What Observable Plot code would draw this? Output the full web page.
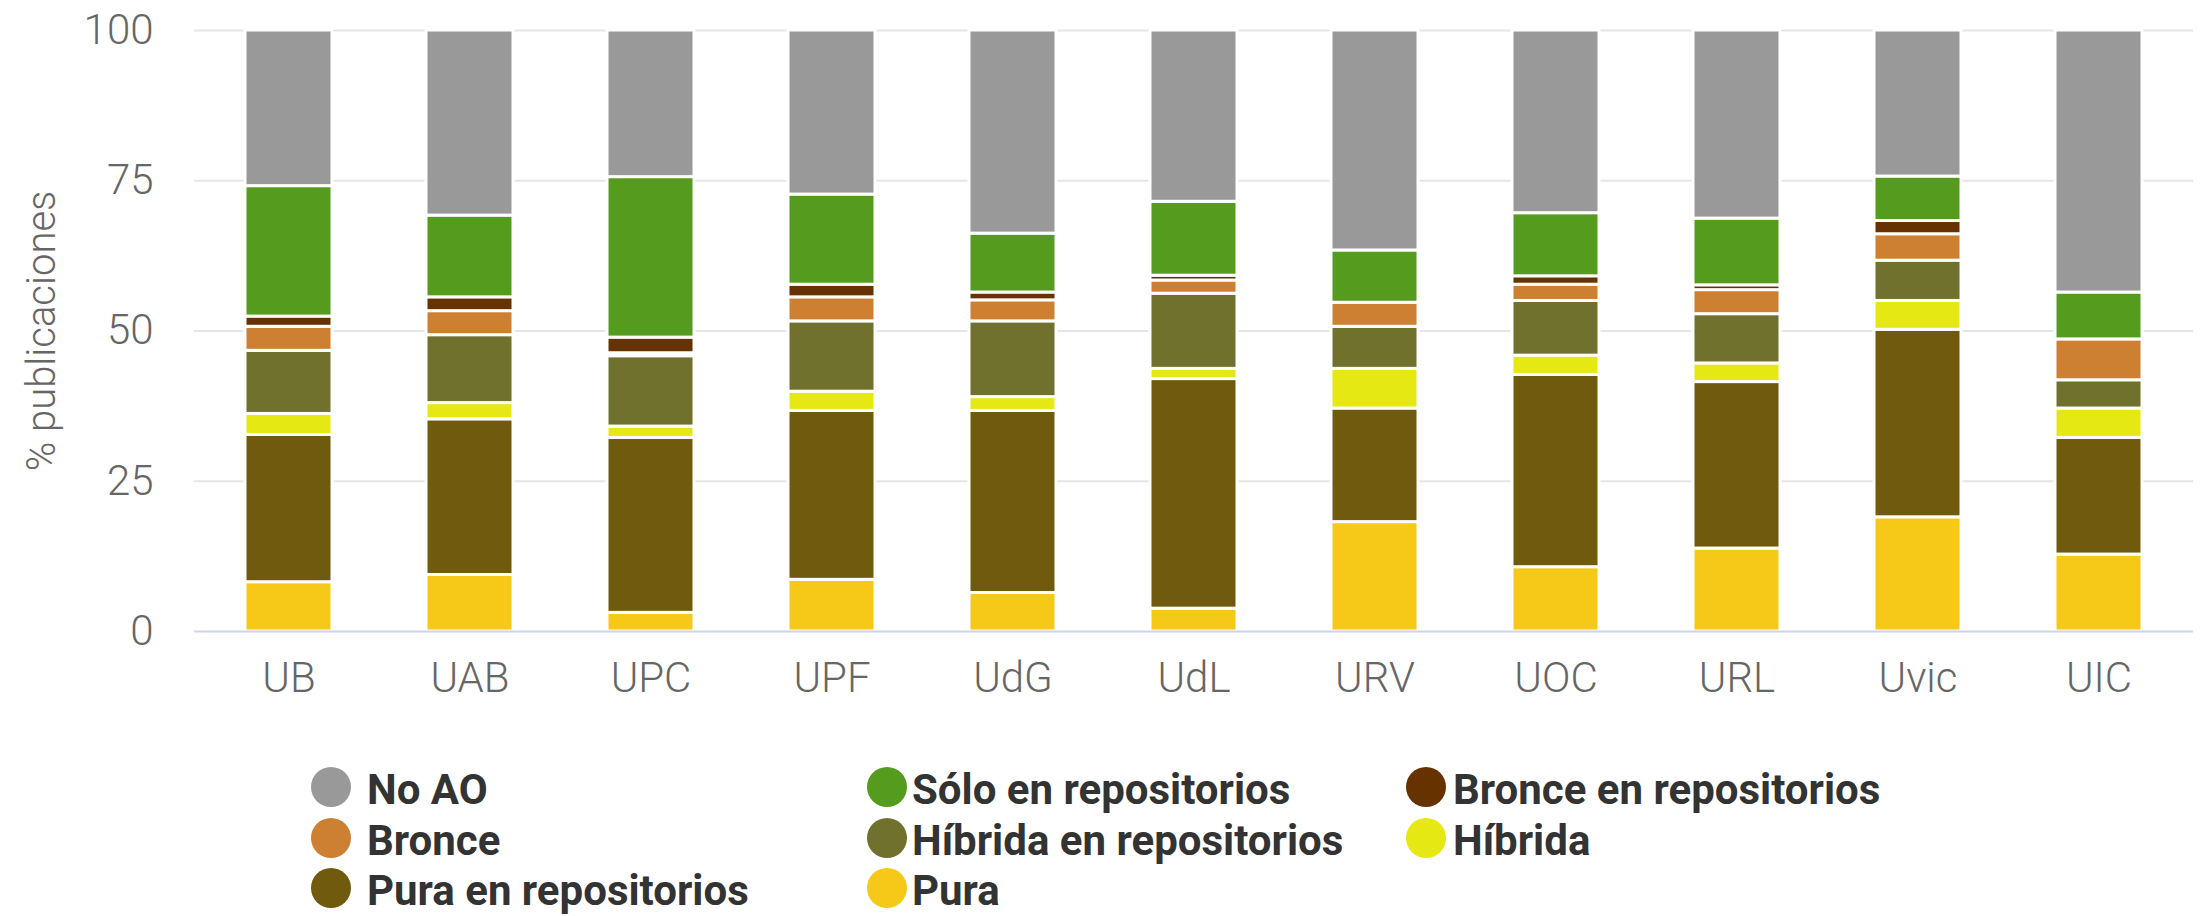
<!DOCTYPE html>
<html>
<head>
<meta charset="utf-8">
<script src="https://cdn.jsdelivr.net/npm/d3@7"></script>
<script src="https://cdn.jsdelivr.net/npm/@observablehq/plot@0.6"></script>
<style>
  html, body { margin: 0; padding: 0; background: #fff; }
  #wrap { position: relative; width: 2202px; height: 916px; font-family: Roboto, "Noto Sans", sans-serif; }
  #chart svg { display: block; }
  .leg-dot { position: absolute; width: 40px; height: 40px; border-radius: 50%; transform: translate(-50%, -50%); }
  .leg-txt { position: absolute; font-weight: 700; font-size: 42px; color: #333; line-height: 1; white-space: nowrap; transform: translateY(-50%); }
</style>
</head>
<body>
<div id="wrap">
  <div id="chart"></div>
  <div id="legend"></div>
</div>
<script>
// Universities (x categories)
const universidades = ["UB", "UAB", "UPC", "UPF", "UdG", "UdL", "URV", "UOC", "URL", "Uvic", "UIC"];

// Series (% publicaciones), stack order bottom -> top
const pura        = [8.2, 9.4, 3.1, 8.6, 6.4, 3.8, 18.2, 10.7, 13.8, 19.0, 12.8];
const puraRep     = [24.5, 25.9, 29.1, 28.1, 30.3, 38.2, 18.9, 32.0, 27.7, 31.2, 19.4];
const hibrida     = [3.5, 2.7, 1.9, 3.2, 2.3, 1.7, 6.6, 3.2, 3.1, 4.8, 4.9];
const hibridaRep  = [10.5, 11.3, 11.7, 11.7, 12.6, 12.5, 7.0, 9.1, 8.2, 6.7, 4.7];
const bronce      = [4.0, 4.0, 0.5, 4.0, 3.5, 2.2, 4.0, 2.7, 4.0, 4.4, 6.8];
const bronceRep   = [1.7, 2.3, 2.6, 2.1, 1.3, 0.8, 0.0, 1.4, 0.8, 2.2, 0.0];
const soloRep     = [21.7, 13.6, 26.7, 15.0, 9.8, 12.3, 8.7, 10.5, 11.1, 7.4, 7.8];
const noAO        = [25.9, 30.8, 24.4, 27.3, 33.8, 28.5, 36.6, 30.4, 31.3, 24.3, 43.6];

const categorias = ["Pura", "Pura en repositorios", "Híbrida", "Híbrida en repositorios",
                    "Bronce", "Bronce en repositorios", "Sólo en repositorios", "No AO"];
const colores    = ["#f6c919", "#6f5a0e", "#e6e813", "#6f712c",
                    "#cd7f32", "#663300", "#559c1e", "#999999"];
const series     = [pura, puraRep, hibrida, hibridaRep, bronce, bronceRep, soloRep, noAO];

// Legend order (row-major, 3 columns)
const leyenda = ["No AO", "Sólo en repositorios", "Bronce en repositorios",
                 "Bronce", "Híbrida en repositorios", "Híbrida",
                 "Pura en repositorios", "Pura"];

const yTicks = [0, 25, 50, 75, 100];
const yLabel = "% publicaciones";

const rows = [];
categorias.forEach((c, ci) => {
  universidades.forEach((u, ui) => {
    rows.push({universidad: u, categoria: c, valor: series[ci][ui]});
  });
});

const chart = Plot.plot({
  width: 2202,
  height: 720,
  marginLeft: 194,
  marginRight: 9,
  marginTop: 30,
  marginBottom: 89,
  style: {fontFamily: "Roboto, sans-serif", background: "#fff"},
  x: {domain: universidades, paddingInner: 0.52, paddingOuter: 0.26, label: null},
  y: {domain: [0, 100], label: null},
  color: {domain: categorias, range: colores},
  marks: [
    Plot.ruleY(yTicks.filter(d => d > 0), {stroke: "#e6e6e6", strokeWidth: 2}),
    Plot.barY(rows, {
      x: "universidad", y: "valor", fill: "categoria",
      order: categorias, stroke: "white", strokeWidth: 3
    }),
    Plot.ruleY([0], {stroke: "#ccd6eb", strokeWidth: 2}),
    Plot.axisY(yTicks, {tickSize: 0, tickPadding: 41, fontSize: 42, fontWeight: 300, fill: "#666", label: null}),
    Plot.axisX(universidades, {tickSize: 0, tickPadding: 31, fontSize: 42, fontWeight: 300, fill: "#666", label: null}),
    Plot.text([yLabel], {frameAnchor: "left", dx: -152, rotate: -90, fontSize: 40, fontWeight: 300, fill: "#666", textAnchor: "middle"})
  ]
});
document.getElementById("chart").appendChild(chart);

// Legend
const colorOf = Object.fromEntries(categorias.map((c, i) => [c, colores[i]]));
const dotX = [331, 887, 1426];
const txtX = [367, 912, 1453];
const rowY = [787, 838, 888];
const legend = document.getElementById("legend");
leyenda.forEach((name, i) => {
  const col = i % 3, row = Math.floor(i / 3);
  const dot = document.createElement("div");
  dot.className = "leg-dot";
  dot.style.left = dotX[col] + "px";
  dot.style.top = rowY[row] + "px";
  dot.style.background = colorOf[name];
  legend.appendChild(dot);
  const t = document.createElement("div");
  t.className = "leg-txt";
  t.style.left = txtX[col] + "px";
  t.style.top = (rowY[row] + 3) + "px";
  t.textContent = name;
  legend.appendChild(t);
});
</script>
</body>
</html>
